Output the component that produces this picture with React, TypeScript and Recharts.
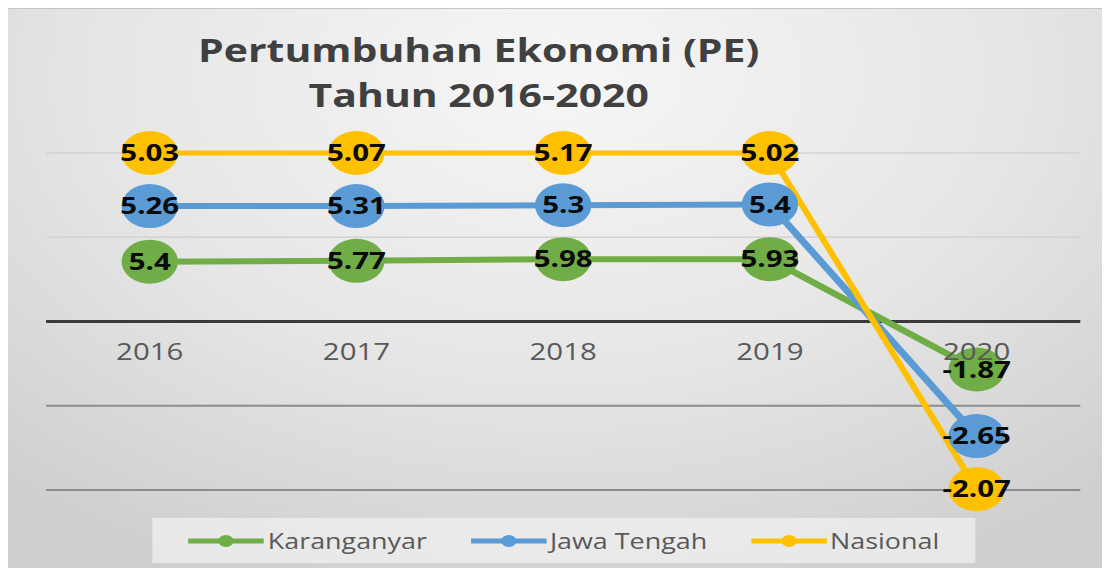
import { LabelList, Line, LineChart, ReferenceLine, XAxis, YAxis } from 'recharts'

// the picture is stretched sideways, so the chart is drawn narrow and widened
const STRETCH = 1.28
const W = 867
const H = 576

const years = ['2016', '2017', '2018', '2019', '2020']

// where each point sits, in gridline steps from the zero axis
const karanganyarPos = [0.71, 0.72, 0.74, 0.74, -0.57]
const jawaTengahPos = [1.37, 1.37, 1.38, 1.39, -1.36]
const nasionalPos = [2.0, 2.0, 2.0, 2.0, -1.99]

// the printed values
const karanganyarLabels = ['5.4', '5.77', '5.98', '5.93', '-1.87']
const jawaTengahLabels = ['5.26', '5.31', '5.3', '5.4', '-2.65']
const nasionalLabels = ['5.03', '5.07', '5.17', '5.02', '-2.07']

const gridTicks = [-2, -1, 0, 1, 2]

const series = [
  { key: 'k', label: 'kLabel', name: 'Karanganyar', color: '#70AD47', width: 6 },
  { key: 'j', label: 'jLabel', name: 'Jawa Tengah', color: '#5B9BD5', width: 6 },
  { key: 'n', label: 'nLabel', name: 'Nasional', color: '#FFC000', width: 5 },
]

const data = years.map((year, i) => ({
  year,
  k: karanganyarPos[i],
  j: jawaTengahPos[i],
  n: nasionalPos[i],
  kLabel: karanganyarLabels[i],
  jLabel: jawaTengahLabels[i],
  nLabel: nasionalLabels[i],
}))

const gridStyle = (v: number) => {
  if (v === 0) return { stroke: '#3a3a3a', strokeWidth: 3 }
  if (v > 0) return { stroke: '#d2d2d2', strokeWidth: 1.5 }
  return { stroke: '#8c8c8c', strokeWidth: 2 }
}

const Legenda = () => (
  <div
    style={{
      position: 'absolute',
      left: 119,
      top: 518,
      width: 643,
      height: 45,
      background: 'rgba(240,240,240,0.75)',
      display: 'flex',
      alignItems: 'center',
      justifyContent: 'center',
      gap: 34,
      fontFamily: 'Open Sans',
      fontSize: 21,
      color: '#595959',
    }}
  >
    {series.map(s => (
      <div key={s.key} style={{ display: 'flex', alignItems: 'center' }}>
        <svg width={59} height={14}>
          <line x1={0} y1={7} x2={59} y2={7} stroke={s.color} strokeWidth={5} strokeLinecap='round' />
          <circle cx={29.5} cy={7} r={6} fill={s.color} />
        </svg>
        <span style={{ marginLeft: 3 }}>{s.name}</span>
      </div>
    ))}
  </div>
)

const App = () => {
  return (
    <div style={{ position: 'relative', margin: -8, width: 1110, height: 576, overflow: 'hidden', background: '#fff' }}>
      <div
        style={{
          position: 'absolute',
          left: 6,
          top: 8,
          width: 1104,
          height: 568,
          borderTop: '1px solid #c4c4c4',
          background: 'radial-gradient(ellipse 75% 95% at 50% 12%, #f6f6f6 0%, #e6e6e6 55%, #cfcfcf 100%)',
        }}
      />
      <div style={{ position: 'absolute', left: 0, top: 0, width: W, height: H, transform: `scaleX(${STRETCH})`, transformOrigin: '0 0' }}>
        <svg width={W} height={130} style={{ position: 'absolute', left: 0, top: 0 }}>
          <text x={374} y={62} textAnchor='middle' fontFamily='Open Sans' fontWeight={700} fontSize={32} fill='#404040'>
            Pertumbuhan Ekonomi (PE)
          </text>
          <text x={374} y={107} textAnchor='middle' fontFamily='Open Sans' fontWeight={700} fontSize={32} fill='#404040'>
            Tahun 2016-2020
          </text>
        </svg>
        <div style={{ position: 'absolute', left: 0, top: 0 }}>
          <LineChart width={W} height={H} data={data} margin={{ top: 153, bottom: 86, left: 36, right: 23 }}>
            <XAxis dataKey='year' hide padding={{ left: 81, right: 81 }} />
            <YAxis hide type='number' domain={[-2, 2]} />
            {gridTicks.map(v => (
              <ReferenceLine key={v} y={v} {...gridStyle(v)} ifOverflow='visible' />
            ))}
            {series.map(s => (
              <Line
                key={s.key}
                dataKey={s.key}
                stroke={s.color}
                strokeWidth={s.width}
                dot={{ r: 22, fill: s.color, stroke: 'none' }}
                activeDot={false}
                isAnimationActive={false}
              />
            ))}
            <Line dataKey={() => 0} stroke='none' dot={false} activeDot={false} isAnimationActive={false}>
              <LabelList dataKey='year' position='bottom' offset={22} fill='#595959' fontSize={23} fontFamily='Open Sans' />
            </Line>
            {series.map(s => (
              <Line key={s.label} dataKey={s.key} stroke='none' dot={false} activeDot={false} isAnimationActive={false}>
                <LabelList dataKey={s.label} position='center' fill='#0a0a0a' fontSize={23} fontWeight={700} fontFamily='Open Sans' />
              </Line>
            ))}
          </LineChart>
        </div>
        <Legenda />
      </div>
    </div>
  )
}

export default App
